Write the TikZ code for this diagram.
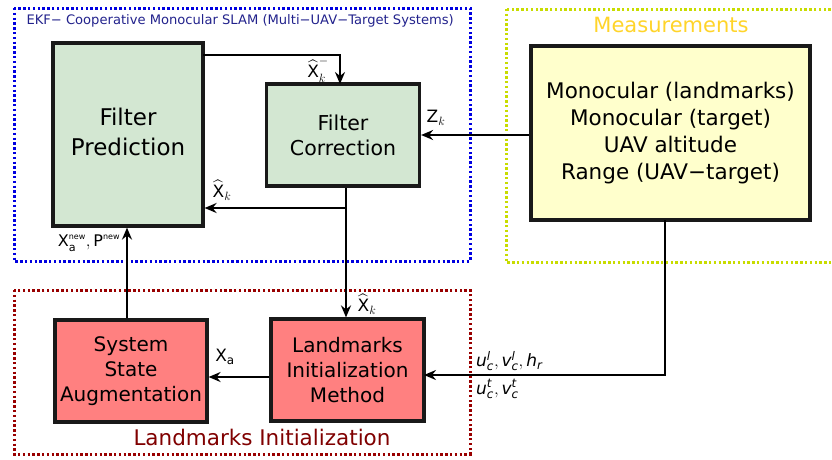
\documentclass[tikz,border=0pt]{standalone}
\usepackage{fontspec}
\usepackage{amsmath}
\setmainfont{DejaVu Sans}
\usetikzlibrary{positioning}
\usetikzlibrary{arrows.meta}

\definecolor{predgreen}{HTML}{D3E7D2}
\definecolor{measyellow}{HTML}{FFFFCC}
\definecolor{initred}{HTML}{FF8080}
\definecolor{ekfblue}{HTML}{0000E0}
\definecolor{ekftitle}{HTML}{22228C}
\definecolor{measframe}{HTML}{C8DC00}
\definecolor{meastitle}{HTML}{FFD42A}
\definecolor{initframe}{HTML}{990000}
\definecolor{inittitle}{HTML}{800000}

\newcommand{\hatX}{\widehat{\text{X}}}
\newcommand{\itx}[1]{\textit{#1}}

\tikzset{
	block/.style={draw=black!90, line width=3.2pt, align=center, inner sep=0pt},
	frame/.style={line width=3pt, dash pattern=on 2.4pt off 2.4pt},
	link/.style={line width=2.2pt, -{Stealth[length=12pt, width=10pt, inset=4pt]}},
	lbl/.style={font=\fontsize{17}{19}\selectfont, inner sep=0pt},
	every picture/.style={x=1pt, y=-1pt}
}

\begin{document}
\begin{tikzpicture}
		\useasboundingbox (0,0) rectangle (832,459);
		% frames
		\draw[frame, ekfblue] (14,8) rectangle (470,261);
		\draw[frame, measframe] (506,9) rectangle (845,262);
		\draw[frame, initframe] (14,290) rectangle (470,454);
		\node[anchor=west, text=ekftitle, font=\fontsize{13.1}{15}\selectfont] (ekf) at (23,21) {EKF− Cooperative Monocular SLAM (Multi−UAV−Target Systems)};
		\node[text=meastitle, font=\fontsize{21}{23}\selectfont] (meastitle) at (671,25) {Measurements};
		\node[text=inittitle, font=\fontsize{21.5}{23}\selectfont] (inittitle) at (262,437) {Landmarks Initialization};
		% blocks
		\node[block, fill=predgreen, minimum width=150, minimum height=183, font=\fontsize{23}{30}\selectfont] (pred) at (128,134.5) {\raisebox{5pt}{\begin{tabular}{@{}c@{}}Filter\\Prediction\end{tabular}}};
		\node[block, fill=predgreen, minimum width=153, minimum height=102, font=\fontsize{20.5}{25}\selectfont] (corr) at (343,135) {Filter\\Correction};
		\node[block, fill=measyellow, minimum width=279, minimum height=174, font=\fontsize{21.5}{27}\selectfont] (meas) at (670.5,133) {Monocular (landmarks)\\Monocular (target)\\UAV altitude\\Range (UAV−target)};
		\node[block, fill=initred, minimum width=153, minimum height=102, font=\fontsize{20}{25}\selectfont] (lim) at (347.5,370) {Landmarks\\Initialization\\Method};
		\node[block, fill=initred, minimum width=152, minimum height=102, font=\fontsize{20}{25}\selectfont] (ssa) at (131,371) {System\\State\\Augmentation};
		% connectors
		\coordinate (predout) at (203,55);
		\coordinate (br) at (346,208);
		\coordinate (measdown) at (665,220);
		\coordinate (limin) at (424,375);
		\draw[link] (predout) -| (340,84);
		\draw[line width=2.2pt] (corr.south -| br) -- (br);
		\draw[link] (br) -- (lim.north -| br);
		\draw[link] (br) -- (pred.east |- br);
		\draw[link] (meas.west |- corr.east) -- (corr.east);
		\draw[link] (measdown) |- (limin);
		\draw[link] (lim.west |- 0,377) -- (ssa.east |- 0,377);
		\draw[link] (ssa.north -| 127,0) -- (pred.south -| 127,0);
		% labels
		\node[lbl] (xpred) at (318,70) {$\hatX_{k}^{-}$};
		\node[lbl] (xcorr) at (222,190) {$\hatX_{k}$};
		\node[lbl] (zk) at (436,118) {$\text{Z}_{k}$};
		\node[lbl] (xinit) at (367,304) {$\hatX_{k}$};
		\node[lbl] (xa) at (225,357) {$\text{X}_{\text{a}}$};
		\node[lbl, font=\fontsize{16}{18}\selectfont] (xnew) at (89,243) {$\text{X}_{\text{a}}^{\scriptscriptstyle\text{new}}, \text{P}^{\scriptscriptstyle\text{new}}$};
		\node[lbl, anchor=west, font=\fontsize{17}{19}\selectfont] (ulvl) at (476,361) {$\itx{u}_{\itx{c}}^{\itx{l}}, \itx{v}_{\itx{c}}^{\itx{l}}, \itx{h}_{\itx{r}}$};
		\node[lbl, anchor=west, font=\fontsize{17}{19}\selectfont] (utvt) at (476,389) {$\itx{u}_{\itx{c}}^{\itx{t}}, \itx{v}_{\itx{c}}^{\itx{t}}$};
		\end{tikzpicture}
\end{document}
